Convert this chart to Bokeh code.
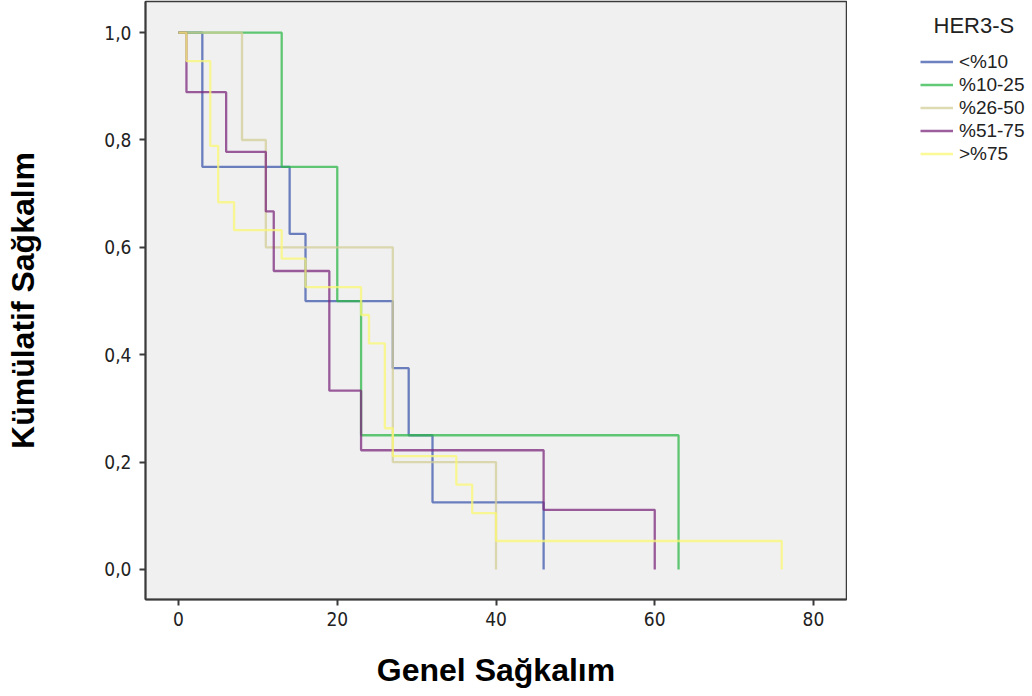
from bokeh.plotting import figure
from bokeh.layouts import row
from bokeh.models import Range1d, FixedTicker, Legend, LegendItem, Label
from bokeh.embed import file_html
from bokeh.resources import INLINE

# ---- data (Kaplan-Meier steps) ----
groups = ["<%10", "%10-25", "%26-50", "%51-75", ">%75"]
colors = ["#3E58AC", "#2EB848", "#D3CE97", "#7C287D", "#FBF873"]

time_lt10 = [0, 3, 14, 16, 27, 29, 32, 46]
surv_lt10 = [1.0, 0.75, 0.625, 0.5, 0.375, 0.25, 0.125, 0.0]

time_10_25 = [0, 13, 20, 23, 63]
surv_10_25 = [1.0, 0.75, 0.5, 0.25, 0.0]

time_26_50 = [0, 8, 11, 27, 40]
surv_26_50 = [1.0, 0.8, 0.6, 0.2, 0.0]

time_51_75 = [0, 1, 6, 11, 12, 19, 23, 46, 60]
surv_51_75 = [1.0, 0.889, 0.778, 0.667, 0.556, 0.333, 0.222, 0.111, 0.0]

time_gt75 = [0, 1, 4, 5, 7, 13, 16, 23, 24, 26, 27, 35, 37, 40, 76]
surv_gt75 = [1.0, 0.947, 0.789, 0.684, 0.632, 0.579, 0.526, 0.474, 0.421,
             0.263, 0.211, 0.158, 0.105, 0.053, 0.0]

times = [time_lt10, time_10_25, time_26_50, time_51_75, time_gt75]
survs = [surv_lt10, surv_10_25, surv_26_50, surv_51_75, surv_gt75]

x_ticks = [0, 20, 40, 60, 80]
y_ticks = [0.0, 0.2, 0.4, 0.6, 0.8, 1.0]
y_tick_labels = ["0,0", "0,2", "0,4", "0,6", "0,8", "1,0"]

legend_title = "HER3-S"
x_title = "Genel Sağkalım"
y_title = "Kümülatif Sağkalım"

# ---- main chart ----
p = figure(width=847, height=696, output_backend="svg", toolbar_location=None,
           x_range=Range1d(-4.16, 84.16), y_range=Range1d(-0.056, 1.058),
           min_border_left=145, min_border_right=1, min_border_top=1,
           min_border_bottom=97)
p.background_fill_color = "#F0F0F0"
p.border_fill_color = "white"
p.outline_line_color = "#3a3a3a"
p.outline_line_width = 1.5
p.xgrid.visible = False
p.ygrid.visible = False

tick_font = "'Liberation Sans Narrow', 'DejaVu Sans Condensed', sans-serif"

p.xaxis.ticker = FixedTicker(ticks=x_ticks)
p.yaxis.ticker = FixedTicker(ticks=y_ticks)
p.yaxis.major_label_overrides = {t: l for t, l in zip(y_ticks, y_tick_labels)}
for ax in (p.xaxis[0], p.yaxis[0]):
    ax.axis_line_color = "#3a3a3a"
    ax.axis_line_width = 2
    ax.major_tick_line_color = "#3a3a3a"
    ax.major_tick_line_width = 2
    ax.major_tick_out = 6
    ax.major_tick_in = 0
    ax.minor_tick_line_color = None
    ax.major_label_text_font = tick_font
    ax.major_label_text_font_size = "19px"
    ax.major_label_text_color = "#222222"
    ax.axis_label_text_font = "Liberation Sans"
    ax.axis_label_text_font_style = "bold"
    ax.axis_label_text_font_size = "32px"
    ax.axis_label_text_color = "black"

p.xaxis.axis_label = x_title
p.yaxis.axis_label = y_title
p.xaxis.major_label_standoff = 6
p.yaxis.major_label_standoff = 8
p.xaxis.axis_label_standoff = 23
p.yaxis.axis_label_standoff = 60

for col, t, s in zip(colors, times, survs):
    p.step(x=t, y=s, mode="after", line_color=col, line_width=2.3, line_alpha=0.75)

# ---- legend panel (separate canvas to the right of the chart) ----
lg = figure(width=185, height=696, output_backend="svg", toolbar_location=None,
            x_range=Range1d(1000, 1001), y_range=Range1d(1000, 1001),
            min_border=0, x_axis_type=None, y_axis_type=None)
lg.outline_line_color = None
lg.background_fill_color = "white"
lg.border_fill_color = "white"
lg.xgrid.visible = False
lg.ygrid.visible = False

items = []
for name, col, t, s in zip(groups, colors, times, survs):
    r = lg.step(x=t, y=s, mode="after", line_color=col, line_width=2.3, line_alpha=0.75)
    items.append(LegendItem(label=name, renderers=[r]))

# the row aligns this canvas' frame with the chart frame (screen y 1..599)
legend = Legend(items=items, location=(73, 434), padding=0, margin=0, spacing=0,
                glyph_width=33, glyph_height=23, label_height=23, label_standoff=6,
                label_text_font="Liberation Sans", label_text_font_size="19px",
                label_text_color="#222222",
                background_fill_alpha=0, border_line_alpha=0)
lg.add_layout(legend)

title = Label(x=86, y=574, x_units="screen", y_units="screen", text=legend_title,
              text_font="Liberation Sans", text_font_size="22px", text_color="#222222",
              text_baseline="middle")
lg.add_layout(title)

layout = row(p, lg, spacing=0)
open("out.html", "w").write(file_html(layout, INLINE))
